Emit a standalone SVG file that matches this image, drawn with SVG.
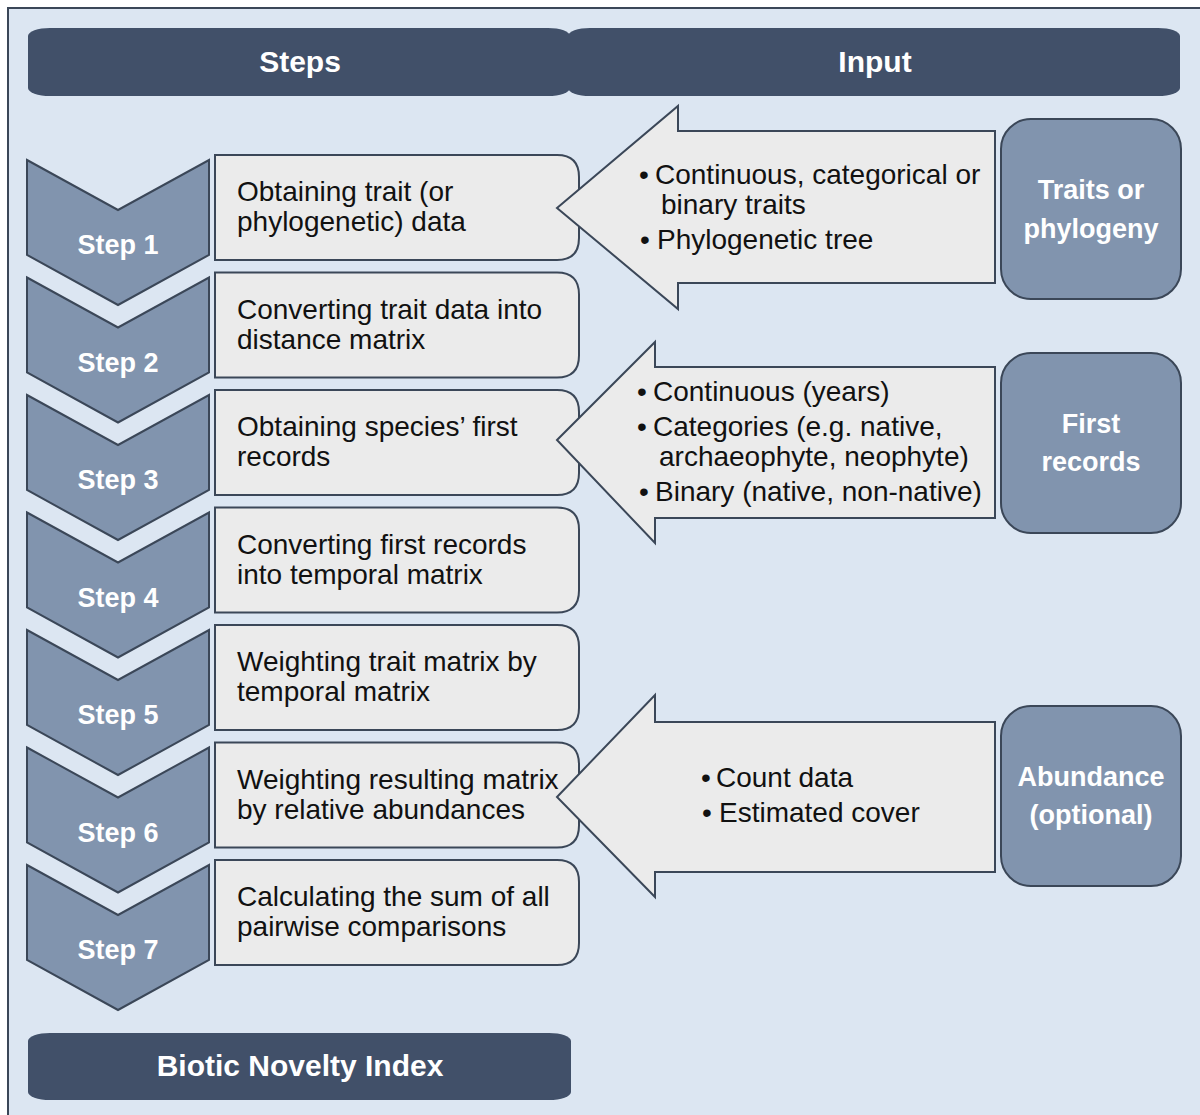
<svg xmlns="http://www.w3.org/2000/svg" width="1200" height="1115" viewBox="0 0 1200 1115">
<style>
.hdr{fill:#415069;}
.hdrt{font-family:"Liberation Sans",Arial,sans-serif;font-weight:bold;font-size:30px;fill:#ffffff;text-anchor:middle;}
.chev{fill:#8194ae;stroke:#3b4758;stroke-width:2;stroke-linejoin:miter;}
.lbl{font-family:"Liberation Sans",Arial,sans-serif;font-weight:bold;font-size:27px;fill:#ffffff;text-anchor:middle;}
.box{fill:#ebebeb;stroke:#3b4758;stroke-width:2;}
.txt{font-family:"Liberation Sans",Arial,sans-serif;font-size:28px;fill:#111111;}
.arrow{fill:#ebebeb;stroke:#3b4758;stroke-width:2;stroke-linejoin:miter;}
.inbox{fill:#8194ae;stroke:#3b4758;stroke-width:2;}
</style>
<rect x="0" y="0" width="1200" height="1115" fill="#ffffff"/>
<rect x="8" y="8" width="1210" height="1130" fill="#dce6f2" stroke="#3b4758" stroke-width="2"/>

<g id="header-steps">
<rect class="hdr" x="28" y="28" width="542" height="68" rx="22" ry="8"/>
<text class="hdrt" x="300" y="72">Steps</text>
</g>
<g id="header-input">
<rect class="hdr" x="568" y="28" width="612" height="68" rx="22" ry="8"/>
<text class="hdrt" x="875" y="72">Input</text>
</g>

<g id="step1">
<polygon class="chev" points="27,160 118,210 209,160 209,255 118,305 27,255"/>
<text class="lbl" x="118" y="254">Step 1</text>
<path class="box" d="M215,155 H557 Q579,155 579,177 V238 Q579,260 557,260 H215 Z"/>
<text class="txt" x="237" y="201">Obtaining trait (or</text>
<text class="txt" x="237" y="231">phylogenetic) data</text>
</g>
<g id="step2">
<polygon class="chev" points="27,277.5 118,327.5 209,277.5 209,372.5 118,422.5 27,372.5"/>
<text class="lbl" x="118" y="371.5">Step 2</text>
<path class="box" d="M215,272.5 H557 Q579,272.5 579,294.5 V355.5 Q579,377.5 557,377.5 H215 Z"/>
<text class="txt" x="237" y="318.5">Converting trait data into</text>
<text class="txt" x="237" y="348.5">distance matrix</text>
</g>
<g id="step3">
<polygon class="chev" points="27,395 118,445 209,395 209,490 118,540 27,490"/>
<text class="lbl" x="118" y="489">Step 3</text>
<path class="box" d="M215,390 H557 Q579,390 579,412 V473 Q579,495 557,495 H215 Z"/>
<text class="txt" x="237" y="436">Obtaining species’ first</text>
<text class="txt" x="237" y="466">records</text>
</g>
<g id="step4">
<polygon class="chev" points="27,512.5 118,562.5 209,512.5 209,607.5 118,657.5 27,607.5"/>
<text class="lbl" x="118" y="606.5">Step 4</text>
<path class="box" d="M215,507.5 H557 Q579,507.5 579,529.5 V590.5 Q579,612.5 557,612.5 H215 Z"/>
<text class="txt" x="237" y="553.5">Converting first records</text>
<text class="txt" x="237" y="583.5">into temporal matrix</text>
</g>
<g id="step5">
<polygon class="chev" points="27,630 118,680 209,630 209,725 118,775 27,725"/>
<text class="lbl" x="118" y="724">Step 5</text>
<path class="box" d="M215,625 H557 Q579,625 579,647 V708 Q579,730 557,730 H215 Z"/>
<text class="txt" x="237" y="671">Weighting trait matrix by</text>
<text class="txt" x="237" y="701">temporal matrix</text>
</g>
<g id="step6">
<polygon class="chev" points="27,747.5 118,797.5 209,747.5 209,842.5 118,892.5 27,842.5"/>
<text class="lbl" x="118" y="841.5">Step 6</text>
<path class="box" d="M215,742.5 H557 Q579,742.5 579,764.5 V825.5 Q579,847.5 557,847.5 H215 Z"/>
<text class="txt" x="237" y="788.5">Weighting resulting matrix</text>
<text class="txt" x="237" y="818.5">by relative abundances</text>
</g>
<g id="step7">
<polygon class="chev" points="27,865 118,915 209,865 209,960 118,1010 27,960"/>
<text class="lbl" x="118" y="959">Step 7</text>
<path class="box" d="M215,860 H557 Q579,860 579,882 V943 Q579,965 557,965 H215 Z"/>
<text class="txt" x="237" y="906">Calculating the sum of all</text>
<text class="txt" x="237" y="936">pairwise comparisons</text>
</g>

<g id="result">
<rect class="hdr" x="28" y="1033" width="543" height="67" rx="22" ry="8"/>
<text class="hdrt" x="300" y="1076">Biotic Novelty Index</text>
</g>

<g id="connectors">
<polygon class="arrow" points="557,208 678,106 678,131 995,131 995,283 678,283 678,309"/>
<polygon class="arrow" points="557,440 655,342 655,367 995,367 995,518 655,518 655,543"/>
<polygon class="arrow" points="557,797 655,695 655,722 995,722 995,872 655,872 655,897"/>
</g>

<g id="input1-text">
<text class="txt"><tspan x="639" y="184">•</tspan><tspan x="655" y="184">Continuous, categorical or</tspan></text>
<text class="txt" x="661" y="214">binary traits</text>
<text class="txt"><tspan x="640" y="249">•</tspan><tspan x="657" y="249">Phylogenetic tree</tspan></text>
</g>
<g id="input2-text">
<text class="txt"><tspan x="637" y="401">•</tspan><tspan x="653" y="401">Continuous (years)</tspan></text>
<text class="txt"><tspan x="637" y="436">•</tspan><tspan x="653" y="436">Categories (e.g. native,</tspan></text>
<text class="txt" x="659" y="466">archaeophyte, neophyte)</text>
<text class="txt"><tspan x="639" y="501">•</tspan><tspan x="655" y="501">Binary (native, non-native)</tspan></text>
</g>
<g id="input3-text">
<text class="txt"><tspan x="701" y="787">•</tspan><tspan x="716" y="787">Count data</tspan></text>
<text class="txt"><tspan x="702" y="822">•</tspan><tspan x="719" y="822">Estimated cover</tspan></text>
</g>

<g id="input-traits">
<rect class="inbox" x="1001" y="119" width="180" height="180" rx="30"/>
<text class="lbl" x="1091" y="199">Traits or</text>
<text class="lbl" x="1091" y="238">phylogeny</text>
</g>
<g id="input-first-records">
<rect class="inbox" x="1001" y="353" width="180" height="180" rx="30"/>
<text class="lbl" x="1091" y="433">First</text>
<text class="lbl" x="1091" y="471">records</text>
</g>
<g id="input-abundance">
<rect class="inbox" x="1001" y="706" width="180" height="180" rx="30"/>
<text class="lbl" x="1091" y="786">Abundance</text>
<text class="lbl" x="1091" y="824">(optional)</text>
</g>
</svg>
